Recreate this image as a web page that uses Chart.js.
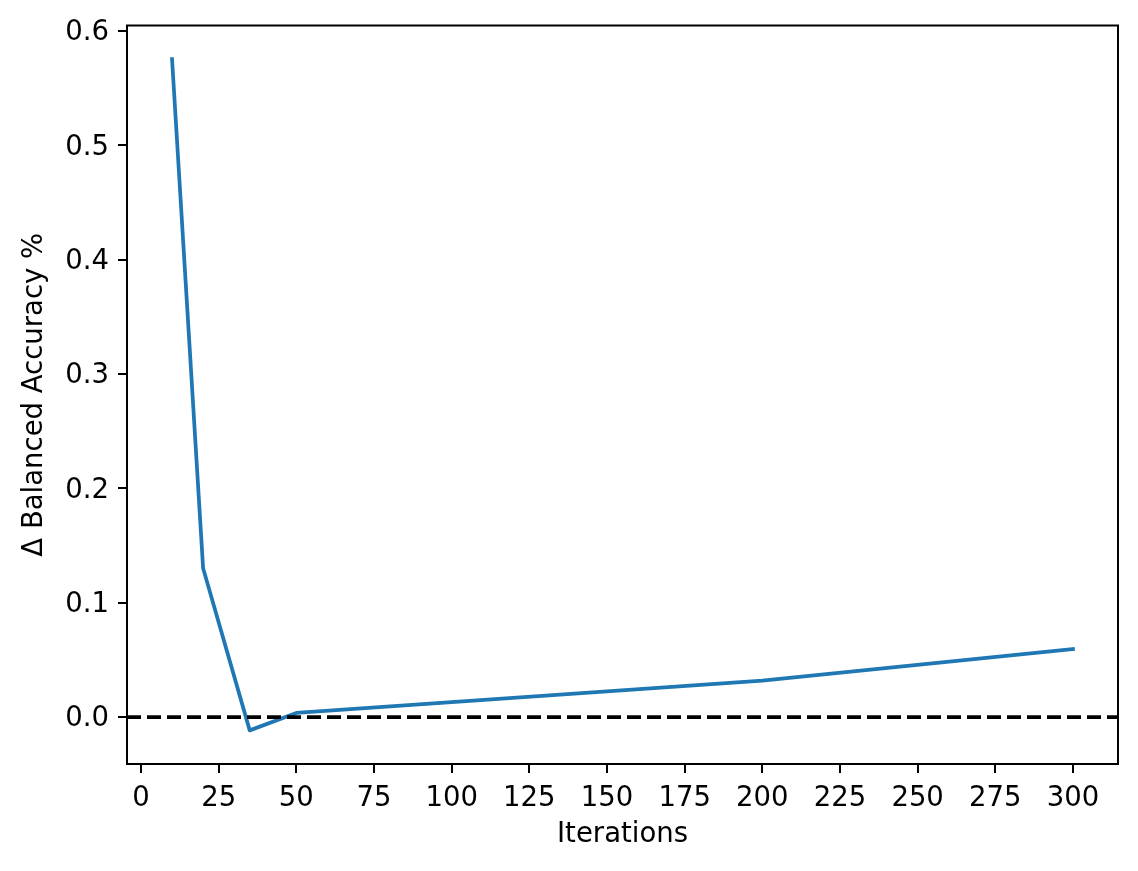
<!DOCTYPE html>
<html>
<head>
<meta charset="utf-8">
<script src="https://cdn.jsdelivr.net/npm/chart.js@4/dist/chart.umd.min.js"></script>
<style>
  html, body { margin: 0; padding: 0; background: #fff; }
  #wrap { width: 1138px; height: 871px; position: relative; }
</style>
</head>
<body>
<div id="wrap"><canvas id="c" width="1138" height="871"></canvas></div>
<script>
const iterations = [10, 20, 35, 50, 200, 300];
const deltaBalancedAccuracy = [0.5754, 0.1303, -0.0115, 0.0037, 0.0319, 0.0596];
const xTicks = [0, 25, 50, 75, 100, 125, 150, 175, 200, 225, 250, 275, 300];
const yTicks = [0.0, 0.1, 0.2, 0.3, 0.4, 0.5, 0.6];
const referenceLevel = 0;
const xLabel = 'Iterations';
const yLabel = 'Δ Balanced Accuracy %';

const FONT = 'DejaVu Sans';
const FS = 27.5;

const framePlugin = {
  id: 'frame',
  afterDatasetsDraw(chart) {
    const ctx = chart.ctx, xs = chart.scales.x, ys = chart.scales.y;
    const L = xs.left, R = xs.right, T = ys.top, B = ys.bottom;
    const y0 = ys.getPixelForValue(referenceLevel);
    ctx.save();
    ctx.beginPath();
    ctx.rect(L, T, R - L, B - T);
    ctx.clip();
    ctx.strokeStyle = '#000';
    ctx.lineWidth = 3.75;
    ctx.setLineDash([14, 6]);
    ctx.beginPath();
    ctx.moveTo(L, y0);
    ctx.lineTo(R, y0);
    ctx.stroke();
    ctx.restore();
    ctx.save();
    ctx.strokeStyle = '#000';
    ctx.lineWidth = 2;
    ctx.setLineDash([]);
    ctx.beginPath();
    ctx.rect(L, T, R - L, B - T);
    ctx.stroke();
    ctx.restore();
  }
};

new Chart(document.getElementById('c'), {
  type: 'scatter',
  data: {
    datasets: [{
      data: iterations.map((x, i) => ({x: x, y: deltaBalancedAccuracy[i]})),
      showLine: true,
      borderColor: '#1f77b4',
      backgroundColor: '#1f77b4',
      borderWidth: 3.75,
      pointRadius: 0,
      tension: 0,
      borderCapStyle: 'square',
      borderJoinStyle: 'round'
    }]
  },
  options: {
    responsive: false,
    animation: false,
    devicePixelRatio: 1,
    layout: { padding: { left: 0, right: 20, top: 25, bottom: 0 } },
    plugins: { legend: { display: false }, tooltip: { enabled: false } },
    scales: {
      x: {
        type: 'linear',
        min: -4.5, max: 314.5,
        afterBuildTicks: s => { s.ticks = xTicks.map(v => ({value: v})); },
        afterFit: s => { s.height = 107; },
        border: { display: false },
        grid: { display: true, drawOnChartArea: false, drawTicks: true, tickLength: 9, color: '#000', lineWidth: 2 },
        ticks: { color: '#000', font: { family: FONT, size: FS }, padding: 9, maxRotation: 0, autoSkip: false,
                 callback: v => String(v) },
        title: { display: true, text: xLabel, color: '#000', font: { family: FONT, size: FS }, padding: { top: 0, bottom: 19.5 } }
      },
      y: {
        type: 'linear',
        min: -0.0409, max: 0.6048,
        afterBuildTicks: s => { s.ticks = yTicks.map(v => ({value: v})); },
        afterFit: s => { s.width = 127; },
        border: { display: false },
        grid: { display: true, drawOnChartArea: false, drawTicks: true, tickLength: 9, color: '#000', lineWidth: 2 },
        ticks: { color: '#000', font: { family: FONT, size: FS }, padding: 9, labelOffset: 2, autoSkip: false,
                 callback: v => Number(v).toFixed(1) },
        title: { display: true, text: yLabel, color: '#000', font: { family: FONT, size: FS }, padding: { top: 18.5, bottom: 0 } }
      }
    }
  },
  plugins: [framePlugin]
});
</script>
</body>
</html>
